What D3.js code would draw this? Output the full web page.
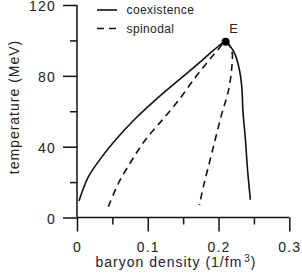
<!DOCTYPE html>
<html><head><meta charset="utf-8">
<script src="https://cdn.jsdelivr.net/npm/d3@7"></script>
<style>
html,body{margin:0;padding:0;background:#fff;}
svg{display:block;font-family:"Liberation Sans",Arial,sans-serif;}
</style></head>
<body>
<svg id="chart" width="302" height="275"></svg>
<script>
// Data (baryon density in 1/fm^3, temperature in MeV)
const coexDensity = [0.0028, 0.016, 0.0349, 0.0537, 0.0819, 0.1149, 0.1479, 0.176, 0.194, 0.21, 0.216, 0.2235, 0.2297, 0.233, 0.2345, 0.238, 0.241, 0.245];
const coexTemp    = [9.3,    22.9,  34.1,   43.5,   55.6,   67.8,   79.0,   88.5,  94.8,  99.2, 97,    92,     83,     73,    60,     44,    27,    10];
const spinDensity = [0.0443, 0.0584, 0.0773, 0.096, 0.1197, 0.143, 0.167, 0.1855, 0.1997, 0.21, 0.2187, 0.2187, 0.2139, 0.2045, 0.195, 0.1855, 0.1785, 0.173];
const spinTemp    = [6.1,    19.2,   32.2,   43.5,  54.7,   65.9,  79,    88.3,   95,     99.2, 94,     84.6,   71.5,   58.4,   43.5,  28.5,   17.3,   7];
const endPoint = {label: "E", density: 0.21, temp: 99.3};
const xMajorTicks = [0, 0.1, 0.2, 0.3];
const xTickLabels = ["0", "0.1", "0.2", "0.3"];
const xMinorTicks = [0.05, 0.15, 0.25];
const yMajorTicks = [0, 40, 80, 120];
const yMinorTicks = [20, 60, 100];
const legendLabels = ["coexistence", "spinodal"];

const svg = d3.select("#chart");
const x = d3.scaleLinear().domain([0, 0.3]).range([77, 289.3]);
const y = d3.scaleLinear().domain([0, 120]).range([217.5, 5]);
const ink = "#111";

// Axes
const xMajor = d3.axisBottom(x).tickValues(xMajorTicks).tickSize(14).tickPadding(11)
  .tickFormat((d, i) => xTickLabels[i]);
const xMinor = d3.axisBottom(x).tickValues(xMinorTicks).tickSize(7).tickFormat("");
const yMajor = d3.axisLeft(y).tickValues(yMajorTicks).tickSize(14).tickPadding(7).tickFormat(d3.format("d"));
const yMinor = d3.axisLeft(y).tickValues(yMinorTicks).tickSize(7).tickFormat("");

function styleAxis(g) {
  g.select(".domain").attr("stroke", ink).attr("stroke-width", 1.5);
  g.selectAll(".tick line").attr("stroke", ink).attr("stroke-width", 1.5);
  g.selectAll(".tick text").attr("fill", "#222").attr("font-size", 14)
    .attr("font-family", "Liberation Sans, Arial, sans-serif").style("letter-spacing", "1.2px");
}
const gx = svg.append("g").attr("transform", `translate(0,${y(0)})`);
gx.call(xMajor); styleAxis(gx);
gx.select(".domain").attr("d", `M${x(0)},0H${x(0.3)}`);
const gx2 = svg.append("g").attr("transform", `translate(0,${y(0)})`);
gx2.call(xMinor); styleAxis(gx2); gx2.select(".domain").remove();

const gy = svg.append("g").attr("transform", `translate(${x(0)},0)`);
gy.call(yMajor); styleAxis(gy);
gy.selectAll(".tick text").attr("dy", "0.42em");
gy.select(".domain").attr("d", `M0,${y(120)}V${y(0)}`);
const gy2 = svg.append("g").attr("transform", `translate(${x(0)},0)`);
gy2.call(yMinor); styleAxis(gy2); gy2.select(".domain").remove();

// Axis titles
const xt = svg.append("text").attr("x", 176).attr("y", 267).attr("text-anchor", "middle")
  .attr("font-size", 14).attr("fill", "#222").style("letter-spacing", "1px");
xt.append("tspan").text("baryon density (1/fm");
xt.append("tspan").attr("font-size", 10).attr("dy", -5).attr("dx", 2).text("3");
xt.append("tspan").attr("dy", 5).text(")");

svg.append("text").attr("transform", "translate(19,107) rotate(-90)").attr("text-anchor", "middle")
  .attr("font-size", 14).attr("fill", "#222").style("letter-spacing", "1px").text("temperature (MeV)");

// Curves
const line = d3.line().x(d => x(d[0])).y(d => y(d[1])).curve(d3.curveCatmullRom.alpha(0.5));
const coex = coexDensity.map((d, i) => [d, coexTemp[i]]);
const spin = spinDensity.map((d, i) => [d, spinTemp[i]]);
svg.append("path").attr("d", line(coex)).attr("fill", "none").attr("stroke", ink).attr("stroke-width", 1.6);
svg.append("path").attr("d", line(spin)).attr("fill", "none").attr("stroke", ink).attr("stroke-width", 1.6)
  .attr("stroke-dasharray", "7,5");

// Endpoint
svg.append("circle").attr("cx", x(endPoint.density)).attr("cy", y(endPoint.temp)).attr("r", 4).attr("fill", "#000");
svg.append("text").attr("x", x(endPoint.density) + 8).attr("y", 33).attr("text-anchor", "middle")
  .attr("font-size", 13).attr("fill", "#222").text(endPoint.label);

// Legend
const leg = svg.append("g");
legendLabels.forEach((lab, i) => {
  const yy = 10 + i * 18.5;
  leg.append("line").attr("x1", 97).attr("x2", 117).attr("y1", yy).attr("y2", yy)
    .attr("stroke", ink).attr("stroke-width", 1.6).attr("stroke-dasharray", i === 1 ? "7,5" : null);
  leg.append("text").attr("x", 126.5).attr("y", yy + 4).attr("font-size", 12).attr("fill", "#222")
    .style("letter-spacing", "0.4px").text(lab);
});
</script>
</body></html>
